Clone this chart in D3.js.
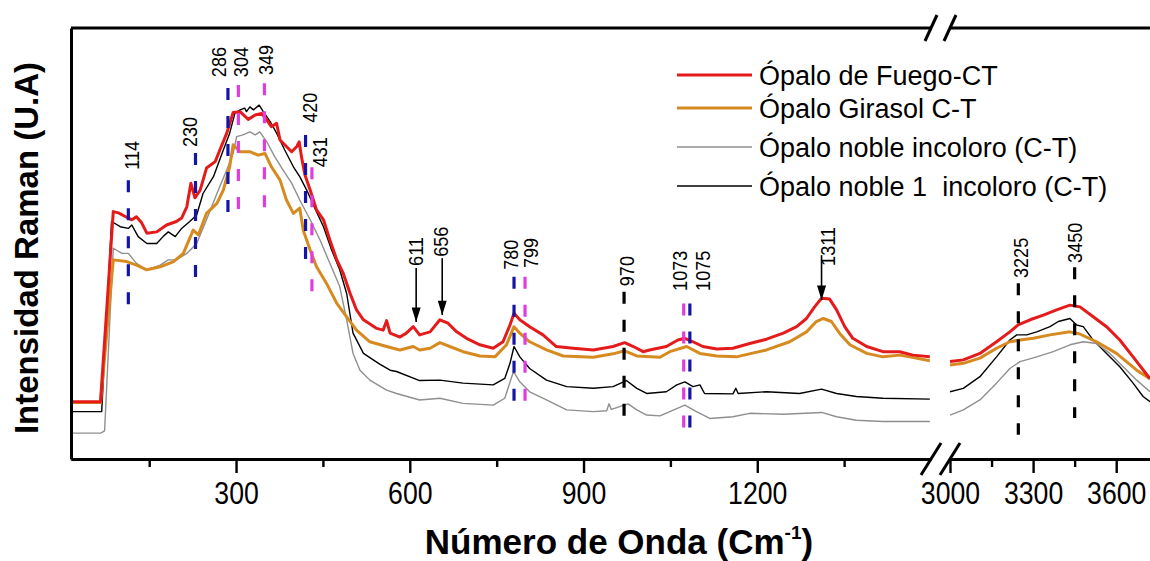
<!DOCTYPE html>
<html><head><meta charset="utf-8">
<script src="https://cdn.jsdelivr.net/npm/d3@7"></script>
<style>
body{margin:0;background:#fff}
svg{display:block}
text{font-family:Arial,"Liberation Sans",sans-serif;fill:#000}
</style>
</head><body>
<svg id="chart" width="1150" height="561"></svg>
<script>
// ---------------- DATA ----------------
const seg1Domain = [15, 1500];
const seg2Domain = [3000, 3722];
const seg1Major = [300, 600, 900, 1200];
const seg1Minor = [150, 450, 750, 1050, 1350];
const seg2Major = [3000, 3300, 3600];
const seg2Minor = [3150, 3450];

const seriesNames = ["Ópalo de Fuego-CT", "Ópalo Girasol C-T", "Ópalo noble incoloro (C-T)", "Ópalo noble 1  incoloro (C-T)"];

const fuegoWn = [15,66,88,97,111,120,128,137,146,163,180,197,206,215,222,229,238,249,264,272,284,295,307,321,333,344,353,361,370,376,387,396,405,409,413,419,428,439,451,462,474,485,497,508,520,543,554,560,566,583,594,606,617,635,652,666,681,698,721,744,761,773,780,790,807,830,853,882,917,951,971,986,1003,1014,1043,1063,1075,1089,1106,1130,1158,1187,1216,1245,1268,1285,1299,1311,1325,1337,1351,1365,1389,1417,1446,1469,1498,
  3000,3048,3108,3168,3216,3246,3289,3337,3385,3433,3469,3517,3565,3613,3661,3722];
const fuegoInt = [13.3,13.3,57.4,57.1,56.1,55.5,56.2,54.8,52.4,52.7,54.3,55.1,55.9,58.5,64.0,60.6,62.4,67.5,69.0,71.7,75.6,80.4,80.6,78.8,79.8,80.2,78.7,77.1,77.9,74.0,72.5,71.3,72.5,73.6,70.1,65.9,62.4,57.8,55.5,50.8,46.2,43.1,38.4,34.6,32.3,30.3,29.9,32.1,29.2,28.3,29.2,30.7,28.8,29.5,32.3,31.5,29.5,28.0,26.5,25.7,27.2,31.1,33.8,32.3,30.7,28.8,26.1,25.7,25.3,26.1,27.0,26.1,24.9,25.3,26.1,27.6,28.0,27.2,26.1,25.5,25.7,26.8,27.8,29.2,30.7,32.6,35.3,37.3,37.1,34.6,30.7,28.0,26.1,24.9,24.9,24.1,23.7,
  22.6,23.0,24.5,27.2,29.5,31.1,32.3,33.4,34.6,35.7,35.3,33.0,30.7,27.6,23.7,18.6];

const girasolWn = [15,66,88,111,128,146,169,192,209,226,235,249,267,278,289,295,307,324,338,350,361,376,387,399,410,416,428,439,456,474,491,508,531,560,583,606,617,635,652,669,692,721,747,767,780,790,807,836,865,917,951,971,992,1032,1049,1078,1101,1130,1164,1216,1256,1285,1302,1314,1328,1342,1360,1389,1417,1446,1463,1498,
  3000,3048,3108,3168,3216,3253,3301,3361,3433,3469,3529,3601,3674,3722];
const girasolInt = [13.1,13.1,46.2,45.8,45.0,43.9,44.6,45.8,47.7,53.1,52.0,57.0,59.3,62.4,67.8,72.9,71.3,71.3,70.5,70.9,67.8,64.7,60.1,57.0,58.2,53.1,48.5,44.6,40.8,36.1,33.0,29.9,27.2,26.1,25.3,26.1,25.3,25.7,27.0,26.1,24.9,23.9,23.7,26.5,30.7,29.2,27.2,25.3,23.9,23.6,24.4,25.1,23.9,23.6,24.9,26.1,24.5,23.9,23.7,25.3,27.2,29.5,31.9,32.6,31.9,29.2,26.5,24.5,23.7,24.1,23.7,22.8,
  21.8,22.2,23.4,25.7,27.2,27.6,28.0,28.8,29.5,29.0,27.2,24.5,20.6,18.6];

const nobleWn = [15,66,73,88,103,114,128,146,169,183,197,215,232,249,267,284,295,301,312,324,333,341,353,367,381,396,410,428,445,462,479,491,502,514,531,560,577,617,652,692,744,764,779,790,807,836,871,917,940,944,948,977,992,1009,1032,1049,1075,1095,1118,1158,1187,1245,1311,1337,1371,1417,1498,
  3000,3048,3108,3168,3216,3253,3313,3373,3433,3481,3529,3577,3625,3674,3722];
const nobleInt = [6.0,6.0,6.5,48.9,47.7,47.7,45.4,43.9,45.0,46.2,46.2,47.7,50.0,55.5,61.6,67.1,70.9,74.8,75.2,75.9,75.2,75.9,73.6,70.1,67.1,64.0,60.1,55.5,50.8,45.4,40.0,32.3,24.5,20.6,18.3,16.0,15.2,13.7,14.1,12.9,12.5,14.1,20.3,17.9,15.6,13.7,11.4,11.0,11.2,12.8,11.5,12.8,11.4,10.2,10.0,11.0,12.5,11.0,9.4,9.8,10.6,10.4,10.8,9.8,9.0,8.7,8.7,
  10.2,11.4,13.7,17.6,21.0,22.6,23.7,24.9,26.5,27.2,26.8,24.5,21.4,18.3,15.6];

const noble1Wn = [15,68,85,100,114,120,131,146,163,174,183,195,206,220,232,243,261,278,289,298,307,315,318,324,330,340,347,359,370,384,399,410,422,436,451,465,479,491,502,520,548,566,577,617,652,692,744,764,773,780,790,807,836,871,917,951,974,992,1009,1043,1061,1075,1089,1101,1109,1158,1163,1167,1216,1273,1311,1337,1371,1417,1498,
  3000,3048,3108,3168,3216,3241,3277,3313,3361,3391,3433,3457,3481,3517,3565,3613,3661,3697,3722];
const noble1Int = [11.0,11.0,55.1,53.9,53.5,54.3,51.6,50.0,50.0,51.6,52.7,51.6,53.5,55.1,56.6,61.6,65.5,71.7,75.6,80.2,81.0,81.4,80.6,81.7,81.0,82.1,80.6,78.3,75.6,71.7,67.8,65.5,62.4,58.2,53.9,48.5,43.9,38.4,29.2,24.5,22.0,20.6,20.3,18.2,18.3,17.6,17.2,18.7,22.2,26.1,23.7,21.0,18.3,16.8,16.4,16.8,18.2,16.4,15.2,15.6,17.2,17.9,16.8,17.2,15.2,15.1,16.4,15.2,15.6,15.2,16.2,15.2,14.5,14.1,13.9,
  15.6,16.4,19.1,23.7,27.6,28.8,28.8,29.5,30.7,31.9,32.6,31.1,30.7,27.6,24.5,21.4,17.6,14.5,13.3];

// dashed peak markers: wavenumber, colour key, top / bottom intensity, label bottom intensity
const markWn    = [114, 230, 286, 304, 349, 420, 431, 780, 799, 970, 1073, 1075, 3225, 3450];
const markKind  = ["b","b","b","m","m","b","m","b","m","k","m","b","k","k"];
const markTop   = [64.7, 71.0, 86.1, 86.8, 87.2, 75.2, 67.7, 42.3, 42.3, 38.8, 36.1, 36.1, 40.8, 44.5];
const markBot   = [35.7, 42.0, 57.1, 57.8, 58.2, 46.2, 38.7, 13.3, 13.3, 9.8, 7.1, 7.1, 5.6, 9.5];
const markLabY  = [67.1, 72.4, 88.6, 88.6, 89.1, 78.0, 67.7, 43.9, 44.3, 40.1, 39.0, 39.0, 42.0, 45.5];

// arrow peak markers
const arrowWn   = [611, 656, 1311];
const arrowTop  = [44.3, 46.6, 47.3];
const arrowTip  = [31.8, 33.4, 36.9];
const arrowLabY = [44.8, 46.9, 44.8];

// ---------------- DRAW ----------------
// small pixel nudges used in the original figure to keep overlapping annotations apart
const markLineDx = [0, 0, 0, 0, 0, 0, 0, 0, 0, 0, 0, 5, 6, 0];
const markLabDx  = [3, -6, -10, 2, 1, 4, 8, -4, 5, 2, -4, 18, 8, 0];
const arrowLabDx = [-1, -2, 6];

const svg = d3.select("#chart");
const X1 = d3.scaleLinear().domain(seg1Domain).range([71, 931]);
const X2 = d3.scaleLinear().domain(seg2Domain).range([950, 1150]);
const Y  = d3.scaleLinear().domain([0, 100]).range([459, 28]);
const xp = w => (w < 2000 ? X1(w) : X2(w));

const colors = {fuego:"#e51b1b", girasol:"#d68a1f", noble:"#8f8f8f", noble1:"#000000"};
const markColor = {b:"#1414a8", m:"#e03ce0", k:"#000000"};
const annFont = 21, annScale = 0.86;

// series
const series = [
  {wn:noble1Wn, v:noble1Int, c:colors.noble1, w:1.4},
  {wn:nobleWn, v:nobleInt, c:colors.noble, w:1.4},
  {wn:girasolWn, v:girasolInt, c:colors.girasol, w:3},
  {wn:fuegoWn, v:fuegoInt, c:colors.fuego, w:3}
];
const line = d3.line().x(d => xp(d[0])).y(d => Y(d[1]));
series.forEach(s => {
  const pts = s.wn.map((w,i) => [w, s.v[i]]);
  [pts.filter(p => p[0] < 2000), pts.filter(p => p[0] >= 2000)].forEach(part => {
    svg.append("path").attr("d", line(part)).attr("fill","none")
      .attr("stroke", s.c).attr("stroke-width", s.w).attr("stroke-linejoin","round");
  });
});

// dashed markers
markWn.forEach((w,i) => {
  const x = xp(w) + markLineDx[i];
  svg.append("line").attr("x1", x).attr("x2", x)
    .attr("y1", Y(markTop[i])).attr("y2", Y(markBot[i]))
    .attr("stroke", markColor[markKind[i]]).attr("stroke-width", 3.2)
    .attr("stroke-dasharray","12,16");
  svg.append("text").text(w)
    .attr("transform", `translate(${xp(w)+markLabDx[i]},${Y(markLabY[i])}) rotate(-90) scale(${annScale},1)`)
    .attr("dy","0.36em").attr("font-size", annFont);
});

// arrows
const defs = svg.append("defs");
defs.append("marker").attr("id","ah").attr("viewBox","0 0 16 10")
  .attr("refX",16).attr("refY",5).attr("markerWidth",15).attr("markerHeight",9)
  .attr("markerUnits","userSpaceOnUse").attr("orient","auto")
  .append("path").attr("d","M0,0 L16,5 L0,10 Z").attr("fill","#000");
arrowWn.forEach((w,i) => {
  svg.append("line").attr("x1", xp(w)).attr("x2", xp(w))
    .attr("y1", Y(arrowTop[i])).attr("y2", Y(arrowTip[i]))
    .attr("stroke","#000").attr("stroke-width",1.6).attr("marker-end","url(#ah)");
  svg.append("text").text(w)
    .attr("transform", `translate(${xp(w)+arrowLabDx[i]},${Y(arrowLabY[i])}) rotate(-90) scale(${annScale},1)`)
    .attr("dy","0.36em").attr("font-size", annFont);
});

// axes
function segAxis(scale, major, minor) {
  const gMaj = svg.append("g").attr("transform","translate(0,459)")
    .call(d3.axisBottom(scale).tickValues(major).tickSize(14).tickSizeOuter(0).tickPadding(9).tickFormat(d3.format("d")));
  const gMin = svg.append("g").attr("transform","translate(0,459)")
    .call(d3.axisBottom(scale).tickValues(minor).tickSize(8).tickSizeOuter(0).tickFormat(""));
  [gMaj, gMin].forEach(g => {
    g.select(".domain").attr("stroke","#000").attr("stroke-width",3);
    g.selectAll(".tick line").attr("stroke","#000").attr("stroke-width",2.4);
    g.selectAll(".tick text").attr("font-size",31).attr("font-family","Arial, 'Liberation Sans', sans-serif")
      .attr("fill","#000").attr("transform","scale(0.86,1)");
  });
  // top frame
  svg.append("line").attr("x1", scale.range()[0]).attr("x2", scale.range()[1])
    .attr("y1", Y(100)).attr("y2", Y(100)).attr("stroke","#000").attr("stroke-width",3);
}
segAxis(X1, seg1Major, seg1Minor);
segAxis(X2, seg2Major, seg2Minor);

const gy = svg.append("g").attr("transform","translate(71,0)")
  .call(d3.axisLeft(Y).tickValues([]).tickSizeOuter(0));
gy.select(".domain").attr("stroke","#000").attr("stroke-width",3);

// break marks
[[X1.range()[1], 459, 10, 16],[X2.range()[0], 459, 10, 16],[X1.range()[1], 28, 6, 13],[X2.range()[0], 28, 6, 13]].forEach(([x,y,dx,dy]) => {
  svg.append("line").attr("x1", x-dx).attr("y1", y+dy).attr("x2", x+dx).attr("y2", y-dy)
    .attr("stroke","#000").attr("stroke-width",3);
});

// legend
const legY = [75, 108, 147, 186];
const legC = [colors.fuego, colors.girasol, colors.noble, colors.noble1];
const legW = [3, 3, 1.5, 1.5];
seriesNames.forEach((n,i) => {
  svg.append("line").attr("x1",677).attr("x2",752).attr("y1",legY[i]).attr("y2",legY[i])
    .attr("stroke",legC[i]).attr("stroke-width",legW[i]);
  svg.append("text").attr("x",759).attr("y",legY[i]).attr("dy","0.36em")
    .attr("font-size",27).style("white-space","pre").text(n);
});

// axis titles
const xt = svg.append("text").attr("x",619).attr("y",554).attr("text-anchor","middle")
  .attr("font-size",35).attr("font-weight","bold");
xt.append("tspan").text("Número de Onda (Cm");
xt.append("tspan").attr("font-size",19).attr("dy",-15).text("-1");
xt.append("tspan").attr("dy",15).text(")");

svg.append("text").attr("transform","translate(38,248) rotate(-90)").attr("text-anchor","middle")
  .attr("font-size",33).attr("font-weight","bold").text("Intensidad Raman (U.A)");
</script>
</body></html>
